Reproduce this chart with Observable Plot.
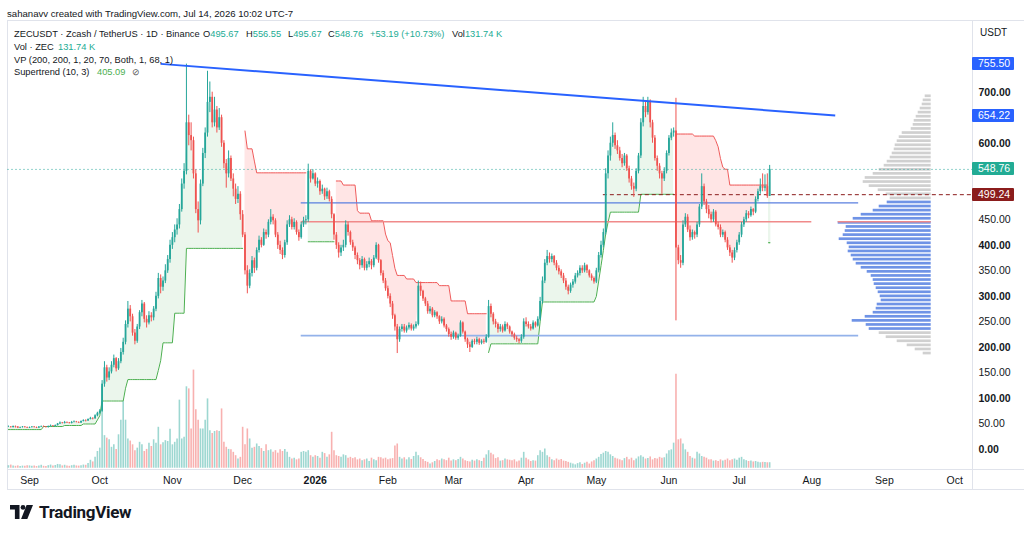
<!DOCTYPE html>
<html>
<head>
<meta charset="utf-8">
<script src="https://cdn.jsdelivr.net/npm/d3@7"></script>
<script src="https://cdn.jsdelivr.net/npm/@observablehq/plot@0.6"></script>
<style>
  html, body { margin: 0; padding: 0; background: #fff; }
  #wrap { position: relative; width: 1024px; height: 535px; overflow: hidden; background: #fff;
          font-family: "Liberation Sans", Arial, sans-serif; color: #131722; }
  #wrap svg { position: absolute; left: 0; top: 0; }
  .t { position: absolute; white-space: nowrap; font-size: 9.3px; line-height: 12px; color: #131722; }
  .g { color: #22ab94; }
  .line { position: absolute; background: #e0e3eb; }
  .plabel { position: absolute; left: 972px; width: 42px; height: 13px; line-height: 13px; color: #fff;
            font-size: 10.5px; padding-left: 6px; box-sizing: border-box; border-radius: 1px; }
</style>
</head>
<body>
<div id="wrap"></div>
<script>
// ---------------- DATA ----------------
const firstDate = "2025-08-23";   // first daily candle
const firstOpen = 44;
// daily closes (USDT), Aug 23 2025 .. Jul 14 2026
const closes = [
  44,43,45,44,42,43,44,43,42,43,
  44,43,42,44,45,44,43,45,46,45,
  47,50,52,51,53,52,51,53,54,53,
  52,55,57,56,59,61,60,66,71,75,
  128,160,140,152,165,178,158,172,190,210,
  245,275,260,228,212,240,268,285,255,248,
  262,258,275,300,335,318,330,350,372,400,
  415,430,440,470,520,545,640,615,605,540,
  470,448,520,580,620,680,690,640,665,630,
  650,600,560,540,570,530,510,490,500,460,
  420,350,320,345,370,355,390,410,400,425,
  420,445,455,448,420,400,390,380,405,440,
  450,435,445,425,415,440,448,450,545,530,
  540,520,525,505,510,495,505,490,460,420,
  400,385,395,400,440,425,405,395,380,370,
  360,372,355,362,368,360,375,400,370,345,
  330,315,300,285,262,240,215,235,240,232,
  238,243,236,240,245,320,310,295,285,270,
  275,262,268,260,250,255,242,235,225,220,
  228,218,222,248,230,215,205,200,212,210,
  215,208,212,210,220,280,265,250,245,235,
  240,232,245,240,230,225,218,215,212,220,
  250,245,240,236,248,242,255,290,330,365,
  378,372,378,365,355,348,340,330,318,310,
  322,328,340,345,355,350,360,350,340,335,
  328,350,380,400,425,540,575,600,615,595,
  585,570,560,575,550,530,515,510,545,575,
  640,672,660,680,640,610,570,555,540,530,
  545,580,610,620,624,395,370,365,440,455,
  430,415,425,420,440,475,515,485,470,460,
  450,465,440,435,420,425,410,395,385,375,
  390,405,420,440,450,462,458,470,465,490,
  505,515,512,515,495.67,548.76
];
const highs = [
  46,45,46,46,45,44,45,45,44,44,
  45,45,44,45,46,46,45,46,48,47,
  48,51,54,53,55,54,53,55,56,55,
  54,56,58,58,60,63,62,68,73,78,
  135,172,165,160,172,185,180,178,198,218,
  252,290,282,265,235,245,272,292,288,262,
  270,268,280,308,345,342,338,362,380,410,
  425,440,452,480,530,560,755,655,640,612,
  548,485,528,590,630,741,720,700,690,672,
  668,655,605,568,585,575,540,520,515,505,
  468,425,360,352,378,375,395,418,415,432,
  430,450,470,460,452,425,408,395,410,448,
  458,455,452,448,430,445,455,458,559,548,
  548,542,532,528,518,512,512,508,495,462,
  425,405,400,410,448,445,428,410,398,385,
  374,378,375,368,375,372,380,405,402,372,
  350,335,320,305,290,265,245,240,245,245,
  242,248,246,244,250,330,328,312,298,290,
  280,278,272,270,262,260,258,245,238,230,
  232,230,226,252,250,232,218,210,215,216,
  220,218,215,216,225,292,285,268,255,248,
  245,244,250,248,242,232,228,222,218,225,
  256,258,250,245,252,250,260,298,338,372,
  390,385,383,380,370,360,352,345,335,322,
  326,333,345,350,360,360,365,362,352,344,
  338,355,386,408,432,550,585,612,640,620,
  605,592,578,580,578,555,535,522,550,580,
  648,690,680,690,685,645,615,575,560,545,
  552,585,615,628,630,688,400,380,448,462,
  460,438,430,428,445,480,540,520,490,478,
  465,470,468,445,440,430,428,415,400,390,
  395,410,425,445,455,468,466,475,472,495,
  510,530,540,538,540,556.55
];
const lows = [
  43,42,42,42,41,41,42,42,41,41,
  42,42,41,41,43,43,42,42,44,44,
  44,46,49,50,50,51,50,50,52,52,
  51,51,54,54,55,58,58,59,64,69,
  73,122,132,135,148,160,152,155,168,185,
  205,238,250,222,205,208,235,260,248,238,
  244,250,252,270,295,305,310,325,345,365,
  392,405,420,432,465,510,538,595,585,530,
  462,424,440,515,570,612,660,630,632,620,
  625,592,550,512,532,525,495,480,482,449,
  415,342,305,315,338,345,350,385,395,398,
  412,415,440,440,415,392,382,372,375,400,
  435,430,430,420,408,412,435,440,445,522,
  528,515,512,498,500,488,490,485,452,410,
  392,375,378,388,395,418,400,388,372,362,
  352,355,350,350,356,352,356,372,365,340,
  325,310,295,278,255,232,188,210,230,228,
  228,234,232,232,236,242,300,290,280,265,
  265,258,258,255,245,246,238,230,220,214,
  216,214,214,220,226,210,198,190,198,205,
  205,204,205,206,208,218,258,244,238,228,
  230,228,230,235,226,220,214,210,207,208,
  216,240,236,232,234,238,240,252,285,325,
  360,365,366,360,350,342,335,325,312,303,
  306,316,324,336,340,345,346,345,336,330,
  324,325,346,375,395,420,530,565,592,588,
  578,565,552,555,545,522,508,494,505,540,
  570,632,650,655,630,600,565,545,530,500,
  525,540,575,605,612,252,362,355,360,435,
  425,408,410,412,415,435,470,478,462,452,
  444,445,436,430,415,415,405,390,378,365,
  370,385,400,415,435,445,452,455,458,462,
  485,500,505,505,492,495.67
];
// daily volume, thousands of ZEC
const volumes = [
  60,75,50,45,55,40,50,45,60,55,
  45,50,40,55,70,45,40,60,75,50,
  65,90,80,55,70,50,45,60,70,55,
  50,60,75,70,110,190,150,260,400,480,
  1950,780,720,680,500,560,450,800,1150,1600,
  1150,700,650,560,420,480,620,560,400,450,
  600,520,680,600,980,560,610,660,640,930,
  560,620,700,1630,700,740,1950,1900,940,2350,
  1400,1150,940,940,1150,1660,900,830,880,900,
  880,1420,620,500,450,440,380,300,220,260,
  980,560,940,700,480,500,580,520,470,400,
  560,420,440,380,420,360,440,400,450,380,
  260,220,240,200,220,380,400,380,420,300,
  260,300,280,240,380,350,260,320,860,420,
  300,280,260,320,300,240,260,230,250,200,
  220,180,200,220,160,240,200,180,260,250,
  220,240,200,220,230,530,580,260,220,250,
  200,250,210,280,380,300,250,210,160,140,
  100,130,160,200,180,220,200,180,240,170,
  200,180,210,260,220,180,160,150,190,170,
  200,180,160,240,320,420,360,320,230,250,
  170,180,220,200,190,180,200,150,170,240,
  380,240,200,160,180,170,300,420,380,460,
  300,260,200,180,220,190,210,170,160,140,
  120,100,80,110,130,90,120,140,100,150,
  180,220,260,330,360,400,380,320,280,240,
  220,200,180,230,260,200,240,180,220,270,
  300,260,220,230,270,200,230,220,260,240,
  250,340,420,440,600,2250,680,700,580,440,
  380,280,240,220,380,340,280,260,240,200,
  200,170,180,160,200,170,190,220,180,200,
  220,190,240,260,200,180,160,170,150,160,
  140,130,140,135,130,131.74
];
// Supertrend (10, 3): level changes (date -> value) and trend starts (up, down, up, ...)
const stStepDates = ["2025-08-23","2025-09-07","2025-09-16","2025-09-24","2025-09-30","2025-10-01","2025-10-02","2025-10-12","2025-10-13","2025-10-26","2025-10-27","2025-10-28","2025-11-02","2025-11-07",
  "2025-12-02","2025-12-03","2025-12-06","2025-12-07",
  "2025-12-29",
  "2026-01-10","2026-01-13","2026-01-19","2026-01-20","2026-01-25","2026-01-31","2026-02-01","2026-02-02","2026-02-03","2026-02-04","2026-02-05","2026-02-09","2026-02-13","2026-02-23","2026-02-28","2026-03-07",
  "2026-03-16","2026-03-17","2026-04-07","2026-04-08","2026-05-01","2026-05-02","2026-05-03","2026-05-04","2026-05-05","2026-05-06","2026-05-07","2026-05-20",
  "2026-06-04","2026-06-12","2026-06-21","2026-06-22","2026-06-23","2026-06-24","2026-06-25","2026-06-27",
  "2026-07-14"];
const stStepValues = [39,45,47,50,58,66,95,120,137,155,174,209,267,394,
  624,589,565,542,
  407,
  526,518,468,463,448,422,409,405,380,355,341,334,327,321,291,266,
  190,207,250,289,300,330,360,390,422,445,465,500,
  618,614,605,593,570,553,549,518,
  405.09];
const stTrendStarts = ["2025-08-23","2025-12-02","2025-12-29","2026-01-10","2026-03-16","2026-06-04","2026-07-14"];
// drawings
const trendLine = [{x1: "2025-10-27", y1: 755.50, x2: "2026-08-11", y2: 654.22}];
const levelLines = [
  {price: 483, from: "2025-12-26", to: "2026-08-21", color: "#5a7fdf", width: 1.2},
  {price: 446, from: "2025-12-26", to: "2026-08-01", color: "#f08a8a", width: 1.5},
  {price: 223, from: "2025-12-26", to: "2026-08-21", color: "#93b2ea", width: 1.6}
];
const dashedLevel = {price: 499.24, from: "2026-05-04"};
const lastPrice = 548.76;
// volume profile (rows of 8 USDT, relative volume)
const vpPrices = [692,684,676,668,660,652,644,636,628,620,612,604,596,588,580,572,564,556,548,540,532,524,516,508,500,492,484,476,468,460,452,444,436,428,420,412,404,396,388,380,372,364,356,348,340,332,324,316,308,300,292,284,276,268,260,252,244,236,228,220,212,204,196,188];
const vpVolumes = [6,8,9,11,13,15,17,18,20,29,32,34,36,37,39,41,44,47,52,58,66,68,62,53,45,41,44,52,58,70,78,93,85,86,88,92,84,82,83,80,78,75,70,64,60,58,57,55,53,51,50,54,55,58,66,79,65,62,52,45,34,24,16,8];
const vpStep = 8;
const vpValueArea = [230, 486];
const vpPoc = 446;
// axis
const monthTicks = ["2025-09-01","2025-10-01","2025-11-01","2025-12-01","2026-01-01","2026-02-01","2026-03-01","2026-04-01","2026-05-01","2026-06-01","2026-07-01","2026-08-01","2026-09-01","2026-10-01"];
const monthLabels = ["Sep","Oct","Nov","Dec","2026","Feb","Mar","Apr","May","Jun","Jul","Aug","Sep","Oct"];
const priceTicksBold = [0,100,200,300,400,600,700];
const priceTicksLight = [50,150,250,350,450];
const axisLabels = [
  {v: 755.50, color: "#2962ff"},
  {v: 654.22, color: "#2962ff"},
  {v: 548.76, color: "#22ab94"},
  {v: 499.24, color: "#8b1c1c"}
];

// ---------------- BUILD ----------------
const DAY = 864e5;
const parse = s => new Date(s + "T00:00:00Z");
const t0 = parse(firstDate);
const xDomain = [new Date(+parse("2025-09-01") - 9.18 * DAY), new Date(+parse("2025-09-01") + 402.6 * DAY)];
const yDomain = [-39.2, 839.5];
const UP = "#26a69a", DOWN = "#ef5350";

const candles = closes.map((c, i) => {
  const o = i === 0 ? firstOpen : closes[i - 1];
  return {date: new Date(+t0 + i * DAY), o, c, h: Math.max(highs[i], o, c), l: Math.min(lows[i], o, c), v: volumes[i], up: c >= o};
});

const stSteps = stStepDates.map((s, i) => ({t: +parse(s), v: stStepValues[i]}));
const stStarts = stTrendStarts.map(s => +parse(s));
const st = candles.map(k => {
  let j = 0; while (j + 1 < stSteps.length && stSteps[j + 1].t <= +k.date) j++;
  let s = 0; while (s + 1 < stStarts.length && stStarts[s + 1] <= +k.date) s++;
  return {date: k.date, st: stSteps[j].v, seg: s, up: s % 2 === 0, mid: (k.o + k.c) / 2};
});
const segCount = d3.rollup(st, v => v.length, d => d.seg);
const stSingles = st.filter(d => segCount.get(d.seg) === 1);

const monthDates = monthTicks.map(parse);
const labelOf = new Map(monthDates.map((d, i) => [+d, monthLabels[i]]));

const commonStyle = {background: "none", overflow: "visible", fontFamily: "Liberation Sans, Arial, sans-serif", fontSize: "10.5px", color: "#131722"};

// volume layer
const volPlot = Plot.plot({
  width: 1024, height: 500, margin: 0,
  x: {type: "utc", domain: xDomain, range: [7.5, 972], axis: null},
  y: {domain: [0, 2400], range: [467.7, 367.5], axis: null},
  style: commonStyle,
  marks: [
    Plot.ruleX(candles, {x: "date", y1: 0, y2: "v", stroke: d => d.up ? UP : DOWN, strokeOpacity: 0.45, strokeWidth: 1.6})
  ]
});

// volume profile layer
const vpRows = vpPrices.map((p, i) => ({p, w: vpVolumes[i], va: p >= vpValueArea[0] && p <= vpValueArea[1]}));
const vpPlot = Plot.plot({
  width: 1024, height: 500, margin: 0,
  x: {domain: [0, 100], range: [930.7, 830.7], axis: null},
  y: {domain: yDomain, range: [469, 20.5], axis: null},
  style: commonStyle,
  marks: [
    Plot.rectX(vpRows, {x1: 0, x2: "w", y1: d => d.p - vpStep / 2, y2: d => d.p + vpStep / 2,
      fill: d => d.va ? "#6f93e6" : "#d0d0d0", insetTop: 0.7, insetBottom: 0.7}),
    Plot.ruleY([vpPoc], {x1: 0, x2: d3.max(vpVolumes), stroke: "#f08a8a", strokeWidth: 1.5})
  ]
});

// main price layer
const main = Plot.plot({
  width: 1024, height: 500,
  marginLeft: 7.5, marginRight: 52, marginTop: 20.5, marginBottom: 31,
  x: {type: "utc", domain: xDomain, axis: null},
  y: {domain: yDomain, axis: null},
  color: {type: "identity"},
  style: commonStyle,
  marks: [
    // supertrend fills and lines
    Plot.areaY(st, {x: "date", y1: "st", y2: "mid", z: "seg", fill: d => d.up ? "#4caf50" : "#ff5252", fillOpacity: d => d.up ? 0.11 : 0.15, curve: "linear"}),
    Plot.rect(stSingles, {x1: d => new Date(+d.date - DAY / 2), x2: d => new Date(+d.date + DAY / 2), y1: "st", y2: "mid", fill: "#4caf50", fillOpacity: 0.11}),
    Plot.line(st, {x: "date", y: "st", z: "seg", stroke: d => d.up ? "#4caf50" : "#ef5a5a", strokeWidth: 1}),
    Plot.ruleY(stSingles, {y: "st", x1: d => new Date(+d.date - DAY / 2), x2: d => new Date(+d.date + DAY / 2), stroke: "#4caf50", strokeWidth: 1}),
    // drawn levels
    Plot.ruleY(levelLines, {y: "price", x1: d => parse(d.from), x2: d => parse(d.to), stroke: "color", strokeWidth: "width"}),
    Plot.ruleY([dashedLevel], {y: "price", x1: d => parse(d.from), x2: () => xDomain[1], stroke: "#8b1c1c", strokeWidth: 1, strokeDasharray: "4,3"}),
    Plot.ruleY([lastPrice], {stroke: "#26a69a", strokeWidth: 1, strokeDasharray: "1,3"}),
    // candles
    Plot.ruleX(candles, {x: "date", y1: "l", y2: "h", stroke: d => d.up ? UP : DOWN, strokeWidth: 1}),
    Plot.ruleX(candles, {x: "date", y1: "o", y2: "c", stroke: d => d.up ? UP : DOWN, strokeWidth: 1.8}),
    // trend line
    Plot.link(trendLine, {x1: d => parse(d.x1), y1: "y1", x2: d => parse(d.x2), y2: "y2", stroke: "#2962ff", strokeWidth: 2}),
    // axes
    Plot.axisX({ticks: monthDates.filter(d => labelOf.get(+d) !== "2026"), tickFormat: d => labelOf.get(+d), tickSize: 0, tickPadding: 7, label: null, fill: "#131722"}),
    Plot.axisX({ticks: monthDates.filter(d => labelOf.get(+d) === "2026"), tickFormat: d => labelOf.get(+d), tickSize: 0, tickPadding: 7, label: null, fill: "#131722", fontWeight: "bold"}),
    Plot.axisY({ticks: priceTicksBold, anchor: "right", tickFormat: d => d.toFixed(2), tickSize: 0, tickPadding: 6, label: null, fill: "#131722", fontWeight: "bold"}),
    Plot.axisY({ticks: priceTicksLight, anchor: "right", tickFormat: d => d.toFixed(2), tickSize: 0, tickPadding: 6, label: null, fill: "#131722"})
  ]
});

const wrap = document.getElementById("wrap");
// frame lines
const lines = [
  {l: 7, t: 20, w: 1017, h: 1}, {l: 7, t: 20, w: 1, h: 469}, {l: 7, t: 469, w: 1017, h: 1},
  {l: 7, t: 489, w: 1017, h: 1}, {l: 972, t: 20, w: 1, h: 469}
];
for (const s of lines) {
  const e = document.createElement("div"); e.className = "line";
  Object.assign(e.style, {left: s.l + "px", top: s.t + "px", width: s.w + "px", height: s.h + "px"});
  wrap.appendChild(e);
}
wrap.appendChild(volPlot);
wrap.appendChild(vpPlot);
wrap.appendChild(main);

// price labels on the axis, positioned with the plot's own y scale
const ys = main.scale("y");
for (const a of axisLabels) {
  const e = document.createElement("div"); e.className = "plabel";
  e.textContent = a.v.toFixed(2);
  e.style.background = a.color;
  e.style.top = (ys.apply(a.v) - 6.5) + "px";
  wrap.appendChild(e);
}

// header & texts
const texts = [
  {x: 7, y: 8, html: "sahanavv created with TradingView.com, Jul 14, 2026 10:02 UTC-7", size: 9.6},
  {x: 14, y: 28, html: "ZECUSDT · Zcash / TetherUS · 1D · Binance"},
  {x: 203, y: 28, html: "O<span class='g'>495.67</span>"},
  {x: 246, y: 28, html: "H<span class='g'>556.55</span>"},
  {x: 288, y: 28, html: "L<span class='g'>495.67</span>"},
  {x: 328, y: 28, html: "C<span class='g'>548.76</span>"},
  {x: 370, y: 28, html: "<span class='g'>+53.19 (+10.73%)</span>"},
  {x: 452, y: 28, html: "Vol<span class='g'>131.74 K</span>"},
  {x: 14, y: 41, html: "Vol · ZEC"},
  {x: 58, y: 41, html: "<span class='g'>131.74 K</span>"},
  {x: 14, y: 54, html: "VP (200, 200, 1, 20, 70, Both, 1, 68, 1)"},
  {x: 14, y: 66, html: "Supertrend (10, 3)"},
  {x: 97, y: 66, html: "<span style='color:#4caf50'>405.09</span>"},
  {x: 132, y: 66, html: "<span style='color:#555'>⊘</span>"},
  {x: 980, y: 27, html: "USDT", size: 10}
];
for (const t of texts) {
  const e = document.createElement("div"); e.className = "t";
  e.style.left = t.x + "px"; e.style.top = t.y + "px";
  if (t.size) e.style.fontSize = t.size + "px";
  e.innerHTML = t.html;
  wrap.appendChild(e);
}
// TradingView logo
const logo = document.createElement("div");
logo.style.cssText = "position:absolute;left:10px;top:503px;height:18px;display:flex;align-items:center;gap:5px;";
logo.innerHTML = `<svg width="24" height="14" viewBox="0 0 24 14" style="position:static">
  <path d="M0 0h9.5v14h-4.6V4.5H0z" fill="#131722"/><circle cx="13" cy="2.4" r="2.4" fill="#131722"/>
  <path d="M16.6 0H23L17.3 14h-6.2z" fill="#131722"/></svg>
  <span style="font-family:Roboto,'Liberation Sans',sans-serif;font-weight:700;font-size:17px;color:#131722;letter-spacing:-0.3px">TradingView</span>`;
wrap.appendChild(logo);
</script>
</body>
</html>
